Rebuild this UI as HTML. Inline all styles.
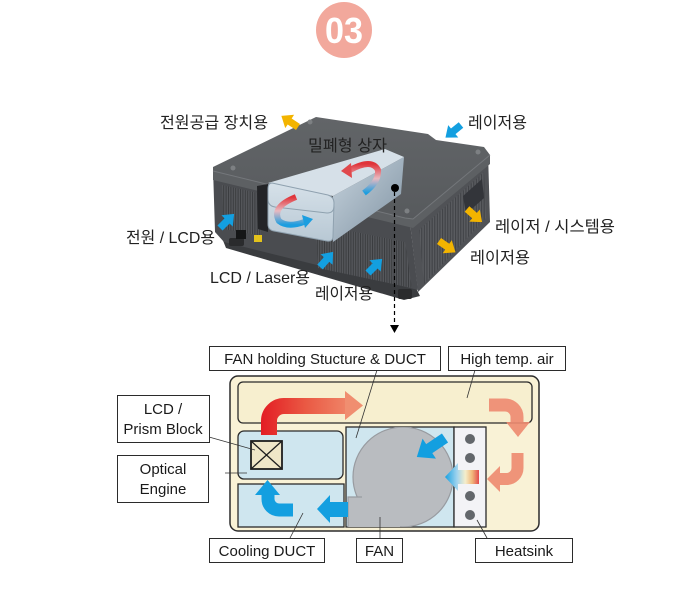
<!DOCTYPE html>
<html><head><meta charset="utf-8"><style>
html,body{margin:0;padding:0;background:#fff;}
svg{display:block;}
text{font-family:"Liberation Sans","Noto Sans CJK KR",sans-serif;}
</style></head><body>
<svg width="690" height="595" viewBox="0 0 690 595" xmlns="http://www.w3.org/2000/svg">
<defs>
<pattern id="grV" width="2.4" height="4" patternUnits="userSpaceOnUse"><rect width="2.4" height="4" fill="#55575b"/><rect width="1" height="4" fill="#3a3c3f"/></pattern>
<pattern id="grR" width="2.6" height="4" patternUnits="userSpaceOnUse"><rect width="2.6" height="4" fill="#5a5c60"/><rect width="1.1" height="4" fill="#404246"/></pattern>
<linearGradient id="topG" x1="0" y1="0" x2="0" y2="1"><stop offset="0" stop-color="#626568"/><stop offset="1" stop-color="#575a5d"/></linearGradient>
<linearGradient id="boxSide" x1="0" y1="0" x2="1" y2="1"><stop offset="0" stop-color="#c6d3dd"/><stop offset="1" stop-color="#7f92a2"/></linearGradient>
<linearGradient id="boxEnd" x1="0" y1="0" x2="0" y2="1"><stop offset="0" stop-color="#d6e1e9"/><stop offset="1" stop-color="#b8c8d4"/></linearGradient>
<linearGradient id="rb" x1="0" y1="0" x2="0" y2="1"><stop offset="0" stop-color="#e0343a"/><stop offset="0.5" stop-color="#e9b9c0"/><stop offset="1" stop-color="#1b9ee0"/></linearGradient>
<linearGradient id="redG" gradientUnits="userSpaceOnUse" x1="261" y1="0" x2="362" y2="0"><stop offset="0" stop-color="#e31d23"/><stop offset="0.45" stop-color="#ea5a44"/><stop offset="1" stop-color="#f19374"/></linearGradient>
<linearGradient id="hsG" gradientUnits="userSpaceOnUse" x1="445" y1="0" x2="479" y2="0"><stop offset="0" stop-color="#17a0e0"/><stop offset="0.35" stop-color="#9fd3ee"/><stop offset="0.6" stop-color="#f5eecb"/><stop offset="0.8" stop-color="#f1b77a"/><stop offset="1" stop-color="#e24a4e"/></linearGradient>
<clipPath id="fanClip"><rect x="346" y="427" width="108" height="100"/></clipPath>
</defs>

<!-- 03 badge -->
<circle cx="344" cy="30" r="28" fill="#f2a89c"/>
<text x="344" y="43" text-anchor="middle" font-size="36" font-weight="bold" fill="#fff" style="font-family:'Liberation Sans Narrow','Liberation Sans',sans-serif" textLength="38" lengthAdjust="spacingAndGlyphs">03</text>

<!-- projector -->
<g>
  <!-- base/plinth -->
  <polygon points="218,228 410,276 420,296 404,300 226,248" fill="#3a3c3f"/>
  <!-- front face -->
  <polygon points="213,168 409,214 418,290 224,242 215,232" fill="#4a4c50"/>
  <polygon points="222,185 262,194 262,236 224,229" fill="url(#grV)"/>
  <polygon points="315,224 405,242 412,288 318,268" fill="url(#grV)"/>
  <!-- right face -->
  <polygon points="409,214 488,152 490,222 418,292" fill="#505256"/>
  <polygon points="419,230 484,172 486,218 424,284" fill="url(#grR)"/>
  <polygon points="463,196 482,179 484,198 466,214" fill="#33353a"/>
  <!-- lips -->
  <polygon points="213,171 409,218 413,219 413,228 409,227 213,180" fill="#5d6063"/>
  <polygon points="413,219 490,155 490,164 413,228" fill="#5d6063"/>
  <!-- top face -->
  <polygon points="213,167 316,117 428,134 436,140 484,147 490,155 413,219 405,218 213,171" fill="url(#topG)"/>
  <polyline points="213,171 405,218 413,219 490,155" fill="none" stroke="#74777b" stroke-width="1"/>
  <circle cx="233" cy="168" r="2.5" fill="#7d8083"/>
  <circle cx="310" cy="122" r="2.5" fill="#7d8083"/>
  <circle cx="478" cy="152" r="2.5" fill="#7d8083"/>
  <circle cx="407" cy="211" r="2.5" fill="#7d8083"/>
  <!-- feet -->
  <rect x="229" y="238" width="15" height="8" rx="2" fill="#2a2b2d"/>
  <rect x="398" y="289" width="14" height="10" rx="2" fill="#2a2b2d"/>
  <!-- socket & sticker -->
  <rect x="236" y="230" width="10" height="9" fill="#151617"/>
  <rect x="254" y="235" width="8" height="7" fill="#e3c21c"/>
  <!-- dark opening behind box -->
  <polygon points="257,186 268,184 268,232 258,229" fill="#232427"/>
  <!-- sealed box -->
  <polygon points="268,183 385,149 404,157 333,196" fill="#d6e0e8"/>
  <polygon points="333,196 404,157 401,194 333,242" fill="url(#boxSide)"/>
  <path d="M272,183 L328,195 Q334,197 334,203 L333,236 Q333,242 327,241 L274,231 Q268,230 268,224 L268,189 Q268,183 272,183 Z" fill="url(#boxEnd)" stroke="#8fa1af" stroke-width="1"/>
  <path d="M268,199 Q268,206 275,207 L327,213 Q334,213 334,206" fill="none" stroke="#8fa1af" stroke-width="1"/>
  <!-- curved arrows on box -->
  <path d="M350,170 Q372,158 378,170 Q379,182 364,193" fill="none" stroke="url(#rb)" stroke-width="6"/>
  <polygon points="341,171 351,163 352,178" fill="#e0484c"/>
  <path d="M296,197 Q271,207 279,221 Q288,228 304,222" fill="none" stroke="url(#rb)" stroke-width="6"/>
  <polygon points="313,219 302,215 305,228" fill="#1b9ee0"/>
  <!-- dot & dashed line -->
  <circle cx="395" cy="188" r="4" fill="#000"/>
  <line x1="394.5" y1="192" x2="394.5" y2="325" stroke="#000" stroke-width="1.2" stroke-dasharray="4,3"/>
  <polygon points="390,325 399,325 394.5,333" fill="#000"/>
</g>

<!-- small flow arrows -->
<g>
  <path d="M0,-3.6 L10,-3.6 L10,-8 L20,0 L10,8 L10,3.6 L0,3.6 Z" fill="#f3b400" transform="translate(298,127) rotate(213.7)"/>
  <path d="M0,-3.6 L10,-3.6 L10,-8 L20,0 L10,8 L10,3.6 L0,3.6 Z" fill="#f3b400" transform="translate(467,209) rotate(41)"/>
  <path d="M0,-3.6 L10,-3.6 L10,-8 L20,0 L10,8 L10,3.6 L0,3.6 Z" fill="#f3b400" transform="translate(439,241) rotate(34.5)"/>
  <path d="M0,-3.6 L10,-3.6 L10,-8 L20,0 L10,8 L10,3.6 L0,3.6 Z" fill="#139fe0" transform="translate(461,125) rotate(141)"/>
  <path d="M0,-3.6 L10,-3.6 L10,-8 L20,0 L10,8 L10,3.6 L0,3.6 Z" fill="#139fe0" transform="translate(220,228) rotate(-45)"/>
  <path d="M0,-3.6 L10,-3.6 L10,-8 L20,0 L10,8 L10,3.6 L0,3.6 Z" fill="#139fe0" transform="translate(320,267) rotate(-49)"/>
  <path d="M0,-3.6 L10,-3.6 L10,-8 L20,0 L10,8 L10,3.6 L0,3.6 Z" fill="#139fe0" transform="translate(368,273) rotate(-45)"/>
</g>

<!-- Korean labels -->
<g font-size="16" fill="#222">
  <text x="160" y="128" textLength="108" lengthAdjust="spacingAndGlyphs">전원공급 장치용</text>
  <text x="468" y="128" textLength="59" lengthAdjust="spacingAndGlyphs">레이저용</text>
  <text x="308" y="151" textLength="79" lengthAdjust="spacingAndGlyphs">밀폐형 상자</text>
  <text x="495" y="232" textLength="120" lengthAdjust="spacingAndGlyphs">레이저 / 시스템용</text>
  <text x="470" y="263" textLength="60" lengthAdjust="spacingAndGlyphs">레이저용</text>
  <text x="126" y="243" textLength="89" lengthAdjust="spacingAndGlyphs">전원 / LCD용</text>
  <text x="210" y="283" textLength="100" lengthAdjust="spacingAndGlyphs">LCD / Laser용</text>
  <text x="315" y="299" textLength="58" lengthAdjust="spacingAndGlyphs">레이저용</text>
</g>

<!-- diagram -->
<g>
  <rect x="230" y="376" width="309" height="155" rx="8" fill="#f9f2d6" stroke="#2b2b2b" stroke-width="1.5"/>
  <rect x="238" y="382" width="294" height="41" rx="5" fill="#f7efcf" stroke="#2b2b2b" stroke-width="1.3"/>
  <rect x="238" y="431" width="105" height="48" rx="6" fill="#cfe6ef" stroke="#2b2b2b" stroke-width="1.3"/>
  <rect x="238" y="484" width="106" height="43" fill="#cfe6ef" stroke="#2b2b2b" stroke-width="1.3"/>
  <rect x="346" y="427" width="108" height="100" fill="#cfe6ef" stroke="#2b2b2b" stroke-width="1.3"/>
  <rect x="454" y="427" width="32" height="100" fill="#f3f3f6" stroke="#2b2b2b" stroke-width="1.3"/>
  <g fill="#63676b">
    <circle cx="470" cy="439" r="5"/><circle cx="470" cy="458" r="5"/>
    <circle cx="470" cy="496" r="5"/><circle cx="470" cy="515" r="5"/>
  </g>
  <g clip-path="url(#fanClip)">
    <circle cx="403" cy="477" r="50" fill="#b9bcc0" stroke="#989ba0" stroke-width="1.2"/>
    <rect x="348" y="497" width="52" height="30" fill="#b9bcc0"/>
    <polyline points="362,497 348,497 348,527" fill="none" stroke="#989ba0" stroke-width="1.2"/>
  </g>
  <rect x="251" y="441" width="31" height="28" fill="#efe6c8" stroke="#1e1e1e" stroke-width="1.8"/>
  <line x1="251" y1="441" x2="282" y2="469" stroke="#1e1e1e" stroke-width="1.3"/>
  <line x1="282" y1="441" x2="251" y2="469" stroke="#1e1e1e" stroke-width="1.3"/>

  <!-- red arrow -->
  <path d="M269,435 V421 A15,15 0 0 1 284,406 H346" fill="none" stroke="url(#redG)" stroke-width="16"/>
  <polygon points="345,391 363,405.5 345,420" fill="#f08e70"/>
  <!-- salmon arrows -->
  <g opacity="0.9" fill="#ef8a70">
    <path d="M489,405 H505 A12,12 0 0 1 517,417 V423" fill="none" stroke="#ef8a70" stroke-width="13"/>
    <polygon points="506,422 530,422 518,437"/>
    <path d="M517.5,453 V468 A11,11 0 0 1 506.5,479 H499" fill="none" stroke="#ef8a70" stroke-width="12"/>
    <polygon points="500,466 500,492 487,479"/>
  </g>
  <!-- blue arrows -->
  <path d="M0,-5.5 L19,-5.5 L19,-12 L34,0 L19,12 L19,5.5 L0,5.5 Z" fill="#139fe0" transform="translate(445,438) rotate(146)"/>
  <polygon points="479,470 458,470 458,463 445,477 458,491 458,484 479,484" fill="url(#hsG)"/>
  <polygon points="348,502 330,502 330,495 317,509 330,523 330,517 348,517" fill="#139fe0"/>
  <path d="M293,510 H279 A11,11 0 0 1 268,499 V494" fill="none" stroke="#139fe0" stroke-width="13"/>
  <polygon points="255,495 280,495 267.5,480" fill="#139fe0"/>

  <!-- leader lines -->
  <g stroke="#333" stroke-width="0.8">
    <line x1="377" y1="370" x2="356" y2="438"/>
    <line x1="475" y1="370" x2="467" y2="398"/>
    <line x1="209" y1="437" x2="255" y2="450"/>
    <line x1="225" y1="473" x2="247" y2="473"/>
    <line x1="290" y1="538" x2="303" y2="513"/>
    <line x1="380" y1="538" x2="380" y2="517"/>
    <line x1="487" y1="538" x2="477" y2="520"/>
  </g>

  <!-- label boxes -->
  <g fill="#fff" stroke="#2b2b2b" stroke-width="1">
    <rect x="209.5" y="346.5" width="231" height="24"/>
    <rect x="448.5" y="346.5" width="117" height="24"/>
    <rect x="117.5" y="395.5" width="92" height="47"/>
    <rect x="117.5" y="455.5" width="91" height="47"/>
    <rect x="209.5" y="538.5" width="115" height="24"/>
    <rect x="356.5" y="538.5" width="46" height="24"/>
    <rect x="475.5" y="538.5" width="97" height="24"/>
  </g>
  <g font-size="15" fill="#1a1a1a" text-anchor="middle">
    <text x="325" y="364">FAN holding Stucture &amp; DUCT</text>
    <text x="507" y="364">High temp. air</text>
    <text x="163" y="414">LCD /</text>
    <text x="163" y="434">Prism Block</text>
    <text x="163" y="474">Optical</text>
    <text x="163" y="494">Engine</text>
    <text x="267" y="556">Cooling DUCT</text>
    <text x="379.5" y="556">FAN</text>
    <text x="524" y="556">Heatsink</text>
  </g>
</g>
</svg>
</body></html>
